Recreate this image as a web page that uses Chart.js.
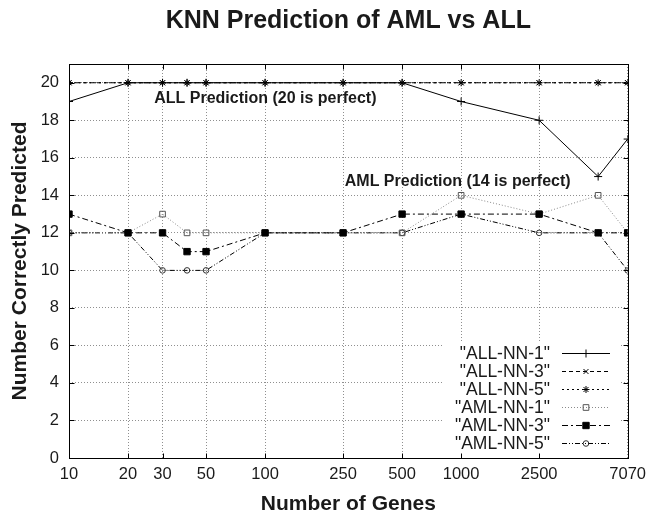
<!DOCTYPE html>
<html>
<head>
<meta charset="utf-8">
<script src="https://cdn.jsdelivr.net/npm/chart.js@4.4.1/dist/chart.umd.min.js"></script>
<style>
  html, body { margin: 0; padding: 0; background: #fff; }
</style>
</head>
<body>
<canvas id="c" width="653" height="517"></canvas>
<script>
// ====== datos ======
const genes  = [10, 20, 30, 40, 50, 100, 250, 500, 1000, 2500, 5000, 7070];
const allNN1 = [19, 20, 20, 20, 20, 20, 20, 20, 19, 18, 15, 17];
const allNN3 = [20, 20, 20, 20, 20, 20, 20, 20, 20, 20, 20, 20];
const allNN5 = [20, 20, 20, 20, 20, 20, 20, 20, 20, 20, 20, 20];
const amlNN1 = [12, 12, 13, 12, 12, 12, 12, 12, 14, 13, 14, 12];
const amlNN3 = [13, 12, 12, 11, 11, 12, 12, 13, 13, 13, 12, 12];
const amlNN5 = [12, 12, 10, 10, 10, 12, 12, 12, 13, 12, 12, 10];
const xTicks = [10, 20, 30, 50, 100, 250, 500, 1000, 2500, 7070];
const yTicks = [0, 2, 4, 6, 8, 10, 12, 14, 16, 18, 20];

const FONT = '"Liberation Sans", Arial, Helvetica, sans-serif';
const INK = '#1a1a1a';
const pts = (ys) => genes.map((g, i) => ({ x: g, y: ys[i] }));

// --- título, marco, marcas internas, rótulos y leyenda estilo gnuplot ---
const gnuplotFrame = {
  id: 'gnuplotFrame',
  afterDraw(chart){
    const { ctx, chartArea: a, scales: { x, y } } = chart;
    const L = Math.round(a.left) + 0.5, R = Math.round(a.right) + 0.5;
    const T = Math.round(a.top) + 0.5, B = Math.round(a.bottom) + 0.5;
    ctx.save();

    // título centrado sobre el área del gráfico
    ctx.fillStyle = INK;
    ctx.textBaseline = 'middle';
    ctx.textAlign = 'center';
    ctx.font = `bold 25px ${FONT}`;
    ctx.fillText('KNN Prediction of AML vs ALL', (a.left + a.right) / 2, 21);

    // rótulos dentro del gráfico
    ctx.font = `bold 16px ${FONT}`;
    ctx.textAlign = 'left';
    ctx.fillText('ALL Prediction (20 is perfect)', x.getPixelForValue(27.2), y.getPixelForValue(19.15));
    ctx.fillText('AML Prediction (14 is perfect)', x.getPixelForValue(255), y.getPixelForValue(14.72));

    // leyenda (fondo blanco, texto a la izquierda de la muestra)
    ctx.fillStyle = '#fff';
    ctx.fillRect(443, 341, 178, B - 341);
    ctx.font = `17.5px ${FONT}`;
    ctx.textAlign = 'right';
    chart.data.datasets.forEach((ds, i) => {
      const yy = 353 + i * 18;
      ctx.fillStyle = INK;
      ctx.fillText(`"${ds.label}"`, 550, yy + 1);
      ctx.save();
      ctx.strokeStyle = ds.borderColor;
      ctx.lineWidth = 1;
      ctx.setLineDash(ds.borderDash || []);
      ctx.beginPath(); ctx.moveTo(562, yy + 0.5); ctx.lineTo(610, yy + 0.5); ctx.stroke();
      ctx.setLineDash([]);
      ctx.strokeStyle = ds.pointBorderColor;
      ctx.fillStyle = ds.pointBackgroundColor;
      Chart.helpers.drawPoint(ctx, { pointStyle: ds.pointStyle, radius: ds.pointRadius, rotation: 0, borderWidth: 1 }, 586, yy + 0.5);
      ctx.restore();
    });

    // marco y marcas hacia dentro
    ctx.strokeStyle = '#000';
    ctx.lineWidth = 1;
    ctx.setLineDash([]);
    ctx.strokeRect(L, T, R - L, B - T);
    ctx.beginPath();
    xTicks.forEach(v => {
      const px = Math.round(x.getPixelForValue(v)) + 0.5;
      ctx.moveTo(px, B); ctx.lineTo(px, B - 5);
      ctx.moveTo(px, T); ctx.lineTo(px, T + 5);
    });
    yTicks.forEach(v => {
      const py = Math.round(y.getPixelForValue(v)) + 0.5;
      ctx.moveTo(L, py); ctx.lineTo(L + 5, py);
      ctx.moveTo(R, py); ctx.lineTo(R - 5, py);
    });
    ctx.stroke();
    ctx.restore();
  }
};

const serie = (label, ys, o) => Object.assign({
  label, data: pts(ys), borderColor: '#000', borderWidth: 1, fill: false, tension: 0,
  pointBorderColor: '#000', pointBackgroundColor: 'rgba(0,0,0,0)', pointBorderWidth: 1,
  pointHoverRadius: 0, order: 1
}, o);

new Chart(document.getElementById('c'), {
  type: 'line',
  data: { datasets: [
    serie('ALL-NN-1', allNN1, { pointStyle: 'cross',    pointRadius: 4 }),
    serie('ALL-NN-3', allNN3, { pointStyle: 'crossRot', pointRadius: 3.5, borderDash: [4, 3] }),
    serie('ALL-NN-5', allNN5, { pointStyle: 'star',     pointRadius: 3.5, borderDash: [2, 3] }),
    serie('AML-NN-1', amlNN1, { pointStyle: 'rect',     pointRadius: 4, borderColor: '#8a8a8a', borderDash: [1, 2], pointBorderColor: '#555' }),
    serie('AML-NN-3', amlNN3, { pointStyle: 'rect',     pointRadius: 4.5, borderDash: [6, 3, 2, 3], pointBackgroundColor: '#000', order: 0 }),
    serie('AML-NN-5', amlNN5, { pointStyle: 'circle',   pointRadius: 2.8, borderDash: [5, 2, 1, 2, 1, 2], pointBorderColor: '#333' })
  ]},
  options: {
    responsive: false, animation: false, devicePixelRatio: 1,
    layout: { padding: { left: 0, right: 21, top: 64, bottom: 0 } },
    plugins: {
      legend: { display: false },
      tooltip: { enabled: false },
      title: { display: false }
    },
    scales: {
      x: {
        type: 'logarithmic', min: 10, max: 7070,
        afterBuildTicks: s => { s.ticks = xTicks.map(v => ({ value: v })); },
        afterFit: s => { s.height = 59; },
        ticks: { callback: v => String(v), autoSkip: false, maxRotation: 0, color: INK,
                 font: { family: FONT, size: 16.5 }, padding: 7 },
        grid: { color: '#8f8f8f', lineWidth: 1, drawTicks: false },
        border: { display: false, dash: [1, 2] },
        title: { display: true, text: 'Number of Genes', color: INK,
                 font: { family: FONT, size: 21, weight: 'bold' }, padding: { top: 0, bottom: 0 } }
      },
      y: {
        min: 0, max: 21,
        afterBuildTicks: s => { s.ticks = yTicks.map(v => ({ value: v })); },
        afterFit: s => { s.width = 69; },
        ticks: { color: INK, font: { family: FONT, size: 16.5 }, padding: 10 },
        grid: { color: '#8f8f8f', lineWidth: 1, drawTicks: false },
        border: { display: false, dash: [1, 2] },
        title: { display: true, text: 'Number Correctly Predicted', color: INK,
                 font: { family: FONT, size: 21, weight: 'bold' }, padding: { top: 8, bottom: 0 } }
      }
    }
  },
  plugins: [gnuplotFrame]
});
</script>
</body>
</html>
